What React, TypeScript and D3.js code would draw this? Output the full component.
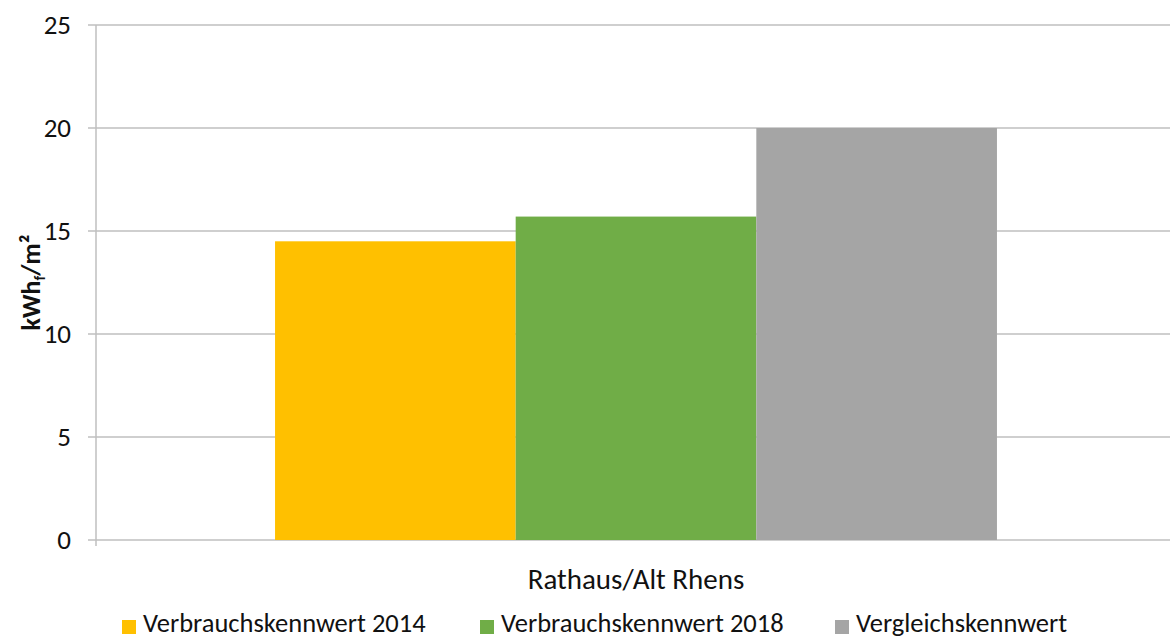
import React from "react";
import * as d3 from "d3";

const categories = ["Rathaus/Alt Rhens"];
const seriesNames = ["Verbrauchskennwert 2014", "Verbrauchskennwert 2018", "Vergleichskennwert"];
const seriesColors = ["#FFC000", "#70AD47", "#A5A5A5"];
const seriesValues = [[14.5], [15.7], [20.0]];
const yTicks = [0, 5, 10, 15, 20, 25];

const W = 1170;
const H = 639;
const M = { left: 96, right: 1176, top: 25, bottom: 540 };
const FONT = "Carlito, Calibri, 'Liberation Sans Narrow', 'Open Sans', sans-serif";

export default function App() {
  const y = d3.scaleLinear().domain([0, 25]).range([M.bottom, M.top]);
  const x0 = d3.scaleBand().domain(categories).range([M.left, M.right]).paddingInner(0).paddingOuter(0.248);
  const x1 = d3.scaleBand().domain(seriesNames).range([0, x0.bandwidth()]).padding(0);
  const legendX = [122, 480, 835];

  return (
    <svg width={W} height={H} style={{ position: "absolute", left: 0, top: 0, background: "#fff" }}>
      {yTicks.map((t) => (
        <g key={t}>
          <line x1={M.left - 8} x2={W} y1={y(t)} y2={y(t)} stroke="#BFBFBF" strokeWidth={1.5} />
          <text x={71} y={y(t)} dy="0.35em" textAnchor="end" fontFamily={FONT} fontSize={27} fill="#111">
            {t}
          </text>
        </g>
      ))}
      <line x1={M.left} x2={M.left} y1={M.top} y2={M.bottom + 6} stroke="#BFBFBF" strokeWidth={1.5} />
      {categories.map((c, ci) =>
        seriesNames.map((s, si) => (
          <rect
            key={c + s}
            x={(x0(c) as number) + (x1(s) as number)}
            y={y(seriesValues[si][ci])}
            width={x1.bandwidth()}
            height={y(0) - y(seriesValues[si][ci])}
            fill={seriesColors[si]}
          />
        ))
      )}
      {categories.map((c) => (
        <text key={c} x={(x0(c) as number) + x0.bandwidth() / 2} y={589} textAnchor="middle" fontFamily={FONT} fontSize={29} fill="#111">
          {c}
        </text>
      ))}
      <text transform={`translate(40, ${y(12.5)}) rotate(-90)`} textAnchor="middle" fontFamily={FONT} fontSize={26} fontWeight="bold" fill="#111">
        kWh<tspan fontSize={15} dy={5}>f</tspan>
        <tspan dy={-5}>/m²</tspan>
      </text>
      {seriesNames.map((s, i) => (
        <g key={s}>
          <rect x={legendX[i]} y={620} width={14} height={14} fill={seriesColors[i]} />
          <text x={legendX[i] + 21} y={632} fontFamily={FONT} fontSize={26.5} fill="#111">
            {s}
          </text>
        </g>
      ))}
    </svg>
  );
}
